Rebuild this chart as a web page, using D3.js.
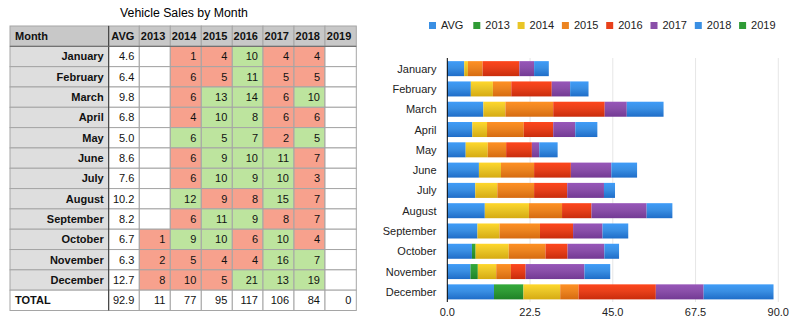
<!DOCTYPE html>
<meta charset="utf-8">
<style>
    body { margin: 0; background: #fff; }
    text { font-family: "Liberation Sans", Arial, sans-serif; }
</style>
<body>
<script src="https://d3js.org/d3.v7.min.js"></script>
<script>

    var months = ["January", "February", "March", "April", "May", "June",
        "July", "August", "September", "October", "November", "December"];
    var years = ["2013", "2014", "2015", "2016", "2017", "2018", "2019"];
    var avg = [4.6, 6.4, 9.8, 6.8, 5.0, 8.6, 7.6, 10.2, 8.2, 6.7, 6.3, 12.7];
    var y2013 = [null, null, null, null, null, null, null, null, null, 1, 2, 8];
    var y2014 = [1, 6, 6, 4, 6, 6, 6, 12, 6, 9, 5, 10];
    var y2015 = [4, 5, 13, 10, 5, 9, 10, 9, 11, 10, 4, 5];
    var y2016 = [10, 11, 14, 8, 7, 10, 9, 8, 9, 6, 4, 21];
    var y2017 = [4, 5, 6, 6, 2, 11, 10, 15, 8, 10, 16, 13];
    var y2018 = [4, 5, 10, 6, 5, 7, 3, 7, 7, 4, 7, 19];
    var y2019 = [null, null, null, null, null, null, null, null, null, null, null, null];
    var xTicks = [0, 22.5, 45, 67.5, 90];

    var seriesNames = ["AVG"].concat(years);
    var series = [avg, y2013, y2014, y2015, y2016, y2017, y2018, y2019];
    var colors = ["#3a8fe3", "#2f9b35", "#e9c527", "#ec8420", "#e8401a", "#8a4fa9", "#3a8fe3", "#2f9b35"];
    var darks = ["#1f6dc8", "#1f8226", "#d6ab12", "#d66b10", "#c92c0c", "#733a94", "#1f6dc8", "#1f8226"];

    var svg = d3.select("body").append("svg")
        .attr("width", 796)
        .attr("height", 323);

    // ---------- table ----------
    var colEdges = [10, 108.7, 139.3, 170.3, 201.3, 232.3, 263, 294, 325, 356.3];
    var rowLabels = ["Month"].concat(months).concat(["TOTAL"]);
    var rowY = d3.scaleBand().domain(d3.range(rowLabels.length)).range([26, 310.5]);
    var rh = rowY.bandwidth();

    svg.append("text")
        .attr("x", 184).attr("y", 16.5)
        .attr("text-anchor", "middle")
        .style("font-size", "12.3px")
        .text("Vehicle Sales by Month");

    var table = svg.append("g");

    function cellValue(r, c) {
        // r: month index, c: 0 avg, 1.. years
        return series[c][r];
    }

    rowLabels.forEach(function (lab, r) {
        var y0 = rowY(r);
        for (var c = 0; c < colEdges.length - 1; c++) {
            var fill = "#fff", txt = "", bold = false, anchor = "end";
            var x0 = colEdges[c], x1 = colEdges[c + 1];
            if (r === 0) {
                fill = "#c8c8c8";
                txt = c === 0 ? "Month" : seriesNames[c - 1];
                bold = true;
                if (c === 0) anchor = "start";
            } else if (r === rowLabels.length - 1) {
                if (c === 0) { txt = "TOTAL"; bold = true; anchor = "start"; }
                else {
                    var s = d3.sum(series[c - 1], function (v) { return v || 0; });
                    txt = c === 1 ? d3.format(".1f")(s) : String(Math.round(s));
                }
            } else {
                var m = r - 1;
                if (c === 0) { fill = "#dedede"; txt = lab; bold = true; }
                else if (c === 1) { txt = d3.format(".1f")(avg[m]); }
                else {
                    var v = cellValue(m, c - 1);
                    if (v != null) {
                        txt = String(v);
                        fill = v >= avg[m] ? "#bde49e" : "#f7a18d";
                    }
                }
            }
            table.append("rect")
                .attr("x", x0).attr("y", y0)
                .attr("width", x1 - x0).attr("height", rh)
                .attr("fill", fill)
                .attr("stroke", "#a5a5a5")
                .attr("stroke-width", 1);
            if (txt !== "") {
                table.append("text")
                    .attr("x", anchor === "start" ? x0 + 5 : x1 - 5)
                    .attr("y", y0 + rh / 2 + 4)
                    .attr("text-anchor", anchor)
                    .style("font-size", "11px")
                    .style("font-weight", bold ? "bold" : "normal")
                    .attr("fill", "#111")
                    .text(txt);
            }
        }
    });

    // darker separators
    table.append("line")
        .attr("x1", colEdges[1]).attr("x2", colEdges[1])
        .attr("y1", rowY(0)).attr("y2", rowY(rowLabels.length - 1) + rh)
        .attr("stroke", "#333");
    table.append("line")
        .attr("x1", colEdges[0]).attr("x2", colEdges[colEdges.length - 1])
        .attr("y1", rowY(1)).attr("y2", rowY(1))
        .attr("stroke", "#666");

    // ---------- stacked bar chart ----------
    var x = d3.scaleLinear().domain([0, 90]).range([447.3, 778.3]);
    var y = d3.scaleBand().domain(months).range([58.5, 302]).paddingInner(0.26).paddingOuter(0.13);

    var defs = svg.append("defs");
    colors.forEach(function (c, i) {
        var g = defs.append("linearGradient")
            .attr("id", "grad" + i)
            .attr("x1", 0).attr("y1", 0).attr("x2", 0).attr("y2", 1);
        g.append("stop").attr("offset", "0%").attr("stop-color", d3.color(c).brighter(0.25));
        g.append("stop").attr("offset", "45%").attr("stop-color", c);
        g.append("stop").attr("offset", "100%").attr("stop-color", darks[i]);
    });

    // gridlines
    svg.append("g")
        .selectAll("line")
        .data(xTicks.slice(1))
        .enter().append("line")
        .attr("x1", function (d) { return x(d); })
        .attr("x2", function (d) { return x(d); })
        .attr("y1", 58).attr("y2", 302)
        .attr("stroke", "#e6e6e6");

    var stackData = months.map(function (m, i) {
        var row = { month: m };
        seriesNames.forEach(function (s, k) { row[s] = series[k][i] || 0; });
        return row;
    });
    var stacked = d3.stack().keys(seriesNames)(stackData);

    svg.append("g")
        .selectAll("g")
        .data(stacked)
        .enter().append("g")
        .attr("fill", function (d, i) { return "url(#grad" + i + ")"; })
        .selectAll("rect")
        .data(function (d) { return d; })
        .enter().append("rect")
        .attr("x", function (d) { return x(d[0]); })
        .attr("y", function (d) { return y(d.data.month); })
        .attr("width", function (d) { return x(d[1]) - x(d[0]); })
        .attr("height", y.bandwidth());

    // y axis line + labels
    svg.append("line")
        .attr("x1", x(0)).attr("x2", x(0))
        .attr("y1", 58).attr("y2", 302)
        .attr("stroke", "#000");

    svg.append("g")
        .selectAll("text")
        .data(months)
        .enter().append("text")
        .attr("x", 436.5)
        .attr("y", function (d) { return y(d) + y.bandwidth() / 2 + 4; })
        .attr("text-anchor", "end")
        .style("font-size", "11px")
        .attr("fill", "#222")
        .text(function (d) { return d; });

    // x axis labels
    svg.append("g")
        .selectAll("text")
        .data(xTicks)
        .enter().append("text")
        .attr("x", function (d) { return x(d); })
        .attr("y", 316)
        .attr("text-anchor", "middle")
        .style("font-size", "11px")
        .attr("fill", "#222")
        .text(function (d) { return d3.format(".1f")(d); });

    // legend
    var legend = svg.append("g")
        .selectAll("g")
        .data(seriesNames)
        .enter().append("g")
        .attr("transform", function (d, i) { return "translate(" + (429 + i * 44.3) + ",22)"; });
    legend.append("rect")
        .attr("width", 7).attr("height", 7)
        .attr("fill", function (d, i) { return colors[i]; });
    legend.append("text")
        .attr("x", 12).attr("y", 7)
        .style("font-size", "11px")
        .attr("fill", "#222")
        .text(function (d) { return d; });

</script>
</body>
